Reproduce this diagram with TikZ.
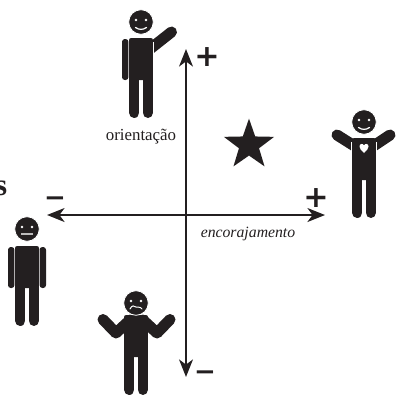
\documentclass[tikz,border=0pt]{standalone}
\usepackage{fontspec}
\setmainfont{Liberation Serif}
\newfontfamily\sinalfont{DejaVu Sans Bold}
\usetikzlibrary{arrows.meta,positioning,shapes.geometric}
\definecolor{tinta}{HTML}{231F20}

\tikzset{
    eixo/.style={draw=tinta, line width=0.38mm, {Stealth[length=4.4mm,width=3.5mm,inset=1.3mm]}-{Stealth[length=4.4mm,width=3.5mm,inset=1.3mm]}},
    membro/.style={draw=tinta, line width=2.75mm, line cap=round, line join=round},
    perna/.style={draw=tinta, line width=2.62mm, line cap=round},
    boca/.style={draw=white, line width=0.3mm, line cap=round},
    sinal/.style={text=tinta, inner sep=0pt, font=\sinalfont\fontsize{21.5}{22}\selectfont},
    traco/.style={text=tinta, inner sep=0pt, font=\sinalfont\fontsize{18.5}{19}\selectfont},
    legenda/.style={text=tinta, inner sep=0pt, anchor=base, font=\fontsize{12}{14}\selectfont},
    pics/corpo/.style={code={
            \draw[perna] (-6.75,30) -- (-6.75,74.75);
            \draw[perna] (6.75,30) -- (6.75,74.75);
            \fill[tinta, rounded corners=1.5] (-12,0) -- (12,0) -- (12,42) -- (-12,42) -- cycle;
            \draw[white, line width=0.2mm] (-12.5,4) -- (-12.5,40);
            \draw[white, line width=0.2mm] (12.5,4) -- (12.5,40);
        }},
    pics/cabeca/.style={code={
            \filldraw[fill=tinta, draw=white, line width=0.2mm] (0,0) circle (12.3);
            \fill[white] (-5,-2) circle (1.3);
            \fill[white] (5,-2) circle (1.3);
            #1
        }},
    pics/braco/.style={code={
            \fill[tinta, rounded corners=2] (-3.2,1) rectangle (3.2,42);
        }},
}

\begin{document}
\begin{tikzpicture}[x=0.025cm, y=-0.025cm]
    \useasboundingbox (0,0) rectangle (396,396);

    % Eixos
    \coordinate (esq) at (47,215);
    \coordinate (dir) at (325,215);
    \coordinate (topo) at (186,49);
    \coordinate (base) at (186,377);
    \draw[eixo] (esq) -- (dir);
    \draw[eixo] (base) -- (topo);

    % Sinais
    \node[sinal] (maisv) at (207,57) {+};
    \node[sinal] (maish) at (316,198) {+};
    \node[traco] (menosh) at (55,202) {−};
    \node[traco] (menosv) at (205,376) {−};

    % Textos
    \node[legenda] (orientacao) at (141,140) {orientação};
    \node[legenda, font=\itshape\fontsize{11.2}{13}\selectfont] (encorajamento) at (248,237) {encorajamento};
    \node[anchor=base east, inner sep=0pt, text=tinta, font=\bfseries\fontsize{22}{22}\selectfont] (titulo) at (7.5,195) {s};

    % Estrela
    \node[star, star points=5, star point ratio=2.5, fill=tinta, inner sep=0pt, minimum size=1.32cm] (estrela) at (249,145) {};

    % Figura de cima
    \draw[membro] (150,49) -- (171.5,32);
    \pic (guia) at (141,38) {corpo};
    \pic (guiabraco) at (125.2,38) {braco};
    \pic (guiacabeca) at (141,22) {cabeca={\draw[boca] (-5.5,5.5) .. controls (-2,8) and (2,8) .. (5.5,5.5);}};

    % Figura da direita
    \draw[membro] (337,135) -- (356,147);
    \draw[membro] (390,135) -- (372,147);
    \pic (apoio) at (364,138) {corpo};
    \pic (apoiocabeca) at (364,122) {cabeca={\draw[boca] (-5.5,5.5) .. controls (-2,8) and (2,8) .. (5.5,5.5);}};
    \fill[white] (364,153) .. controls (361,150) and (359.5,148.5) .. (359.5,146.5)
        .. controls (359.5,143.5) and (363,143) .. (364,145.5)
        .. controls (365,143) and (368.5,143.5) .. (368.5,146.5)
        .. controls (368.5,148.5) and (367,150) .. (364,153) -- cycle;

    % Figura da esquerda
    \pic (neutro) at (27,246) {corpo};
    \pic (neutrobracoe) at (11.2,246) {braco};
    \pic (neutrobracod) at (42.8,246) {braco};
    \pic (neutrocabeca) at (27,229) {cabeca={\draw[boca, draw=white!70!tinta, line cap=butt, line width=0.4mm] (-6,5) -- (6,5);}};

    % Figura de baixo
    \pic (duvida) at (136,315) {corpo};
    \draw[membro] (103,319.5) -- (116,333) -- (130,320);
    \draw[membro] (170,319.5) -- (157,333) -- (143,320);
    \pic (duvidacabeca) at (136,303) {cabeca={\draw[boca, line width=0.25mm] (-6,6) .. controls (-4,2) and (-2,2.5) .. (0,4) .. controls (2,5) and (4,3) .. (6,6);}};
\end{tikzpicture}
\end{document}
